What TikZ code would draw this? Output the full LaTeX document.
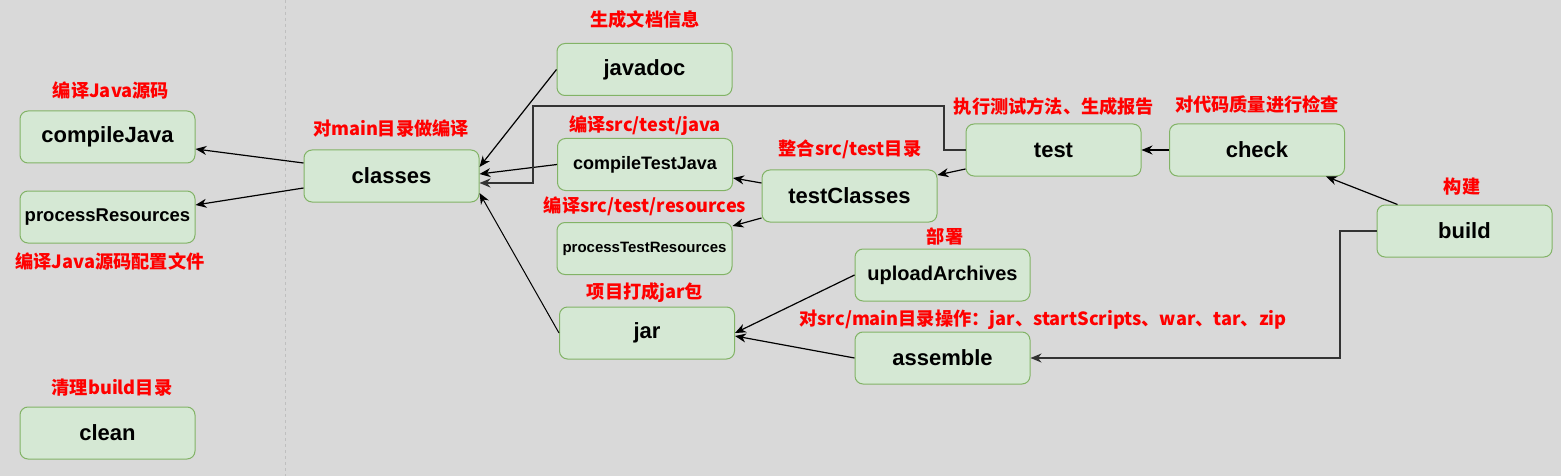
\documentclass[tikz,border=0pt]{standalone}
\usepackage{fontspec}
\setmainfont{Liberation Sans}
\newfontfamily\cjk{Noto Sans CJK SC}
\usepackage{xcolor}
\definecolor{bgrey}{HTML}{D9D9D9}
\definecolor{boxfill}{HTML}{D5E8D4}
\definecolor{boxline}{HTML}{82B366}
\definecolor{notered}{HTML}{FF0000}
\usepackage{tikz}
\usetikzlibrary{calc,arrows.meta,positioning}
\tikzset{
  task/.style={rectangle, draw=boxline, fill=boxfill, line width=1pt, rounded corners=8pt,
    minimum width=175pt, minimum height=52pt, inner sep=0pt, font=\bfseries\fontsize{22}{24}\selectfont},
  smalltask/.style={task, font=\bfseries\fontsize{18.5}{20}\selectfont},
  tinytask/.style={task, font=\bfseries\fontsize{15}{17}\selectfont},
  note/.style={text=notered, inner sep=0pt, font=\cjk\bfseries\fontsize{18.2}{20}\selectfont},
  line/.style={draw, line width=1.2pt, -{Stealth[length=11pt,width=9pt,inset=3.5pt]}},
  elbow/.style={line, line width=1.5pt, draw=black!80},
  sep/.style={draw=black!25, line width=1pt, dashed},
}
\begin{document}
\begin{tikzpicture}[x=1pt,y=-1pt]
  \fill[bgrey] (0,0) rectangle (1561,476);
  \useasboundingbox (0,0) rectangle (1561,476);
  \draw[sep] (285,0) -- (285,476);

  % tasks
  \node[task] (compileJava) at (107.5,137) {compileJava};
  \node[smalltask] (processResources) at (107.5,217) {processResources};
  \node[task] (clean) at (107.5,433) {clean};
  \node[task] (classes) at (391.5,176) {classes};
  \node[task] (javadoc) at (644.5,69.5) {javadoc};
  \node[smalltask,font=\bfseries\fontsize{18}{20}\selectfont] (compileTestJava) at (645,164.5) {compileTestJava};
  \node[tinytask] (processTestResources) at (644.5,248.5) {processTestResources};
  \node[task] (jar) at (647,333) {jar};
  \node[task] (testClasses) at (849.5,196) {testClasses};
  \node[task] (test) at (1053.5,150) {test};
  \node[task] (check) at (1257,150) {check};
  \node[task] (build) at (1464.5,231) {build};
  \node[task,font=\bfseries\fontsize{20}{22}\selectfont] (uploadArchives) at (942.5,275) {uploadArchives};
  \node[task] (assemble) at (942.5,358) {assemble};

  % notes
  \node[note] (compileJavaNote) at (111,91) {编译Java源码};
  \node[note] (processResourcesNote) at (110,261) {编译Java源码配置文件};
  \node[note] (cleanNote) at (112,388) {清理build目录};
  \node[note] (classesNote) at (391,129) {对main目录做编译};
  \node[note] (javadocNote) at (645,20) {生成文档信息};
  \node[note] (compileTestJavaNote) at (645,126) {编译src/test/java};
  \node[note] (processTestResourcesNote) at (645,206) {编译src/test/resources};
  \node[note] (jarNote) at (645,293) {项目打成jar包};
  \node[note] (testClassesNote) at (850,149) {整合src/test目录};
  \node[note] (testNote) at (1054,107) {执行测试方法、生成报告};
  \node[note] (checkNote) at (1257,105) {对代码质量进行检查};
  \node[note] (buildNote) at (1462,187) {构建};
  \node[note] (uploadArchivesNote) at (945,237) {部署};
  \node[note] (assembleNote) at (1043,320) {对src/main目录操作：jar、startScripts、war、tar、zip};

  \coordinate (testBend) at (944,106);
  \coordinate (classesBend) at (533,106);
  \coordinate (buildBend) at (1340,231);

  % dependencies
  \path[line] ([yshift=13pt]classes.west) -- ([yshift=-12pt]compileJava.east);
  \path[line] ([yshift=-12pt]classes.west) -- ([yshift=12pt]processResources.east);
  \path[line] (javadoc.west) -- ([yshift=9pt]classes.east);
  \path[line] (compileTestJava.west) -- ([yshift=2pt]classes.east);
  \path[line,line width=1pt] (jar.west) -- ([yshift=-17pt]classes.east);
  \path[elbow] (test.west) -| (testBend) -- (classesBend) |- ([yshift=-7pt]classes.east);
  \path[line] ([yshift=13pt]testClasses.west) -- ([yshift=-13.5pt]compileTestJava.east);
  \path[line] ([yshift=-22pt]testClasses.west) -- ([yshift=22.5pt]processTestResources.east);
  \path[line] ([yshift=-19pt]test.west) -- ([yshift=21pt]testClasses.east);
  \path[line] (check.west) -- (test.east);
  \path[line] ([xshift=21pt]build.north west) -- ([xshift=-19pt]check.south east);
  \path[elbow] (build.west) -- (buildBend) |- (assemble.east);
  \path[line] (uploadArchives.west) -- (jar.east);
  \path[line] (assemble.west) -- ([yshift=-3pt]jar.east);
\end{tikzpicture}
\end{document}
